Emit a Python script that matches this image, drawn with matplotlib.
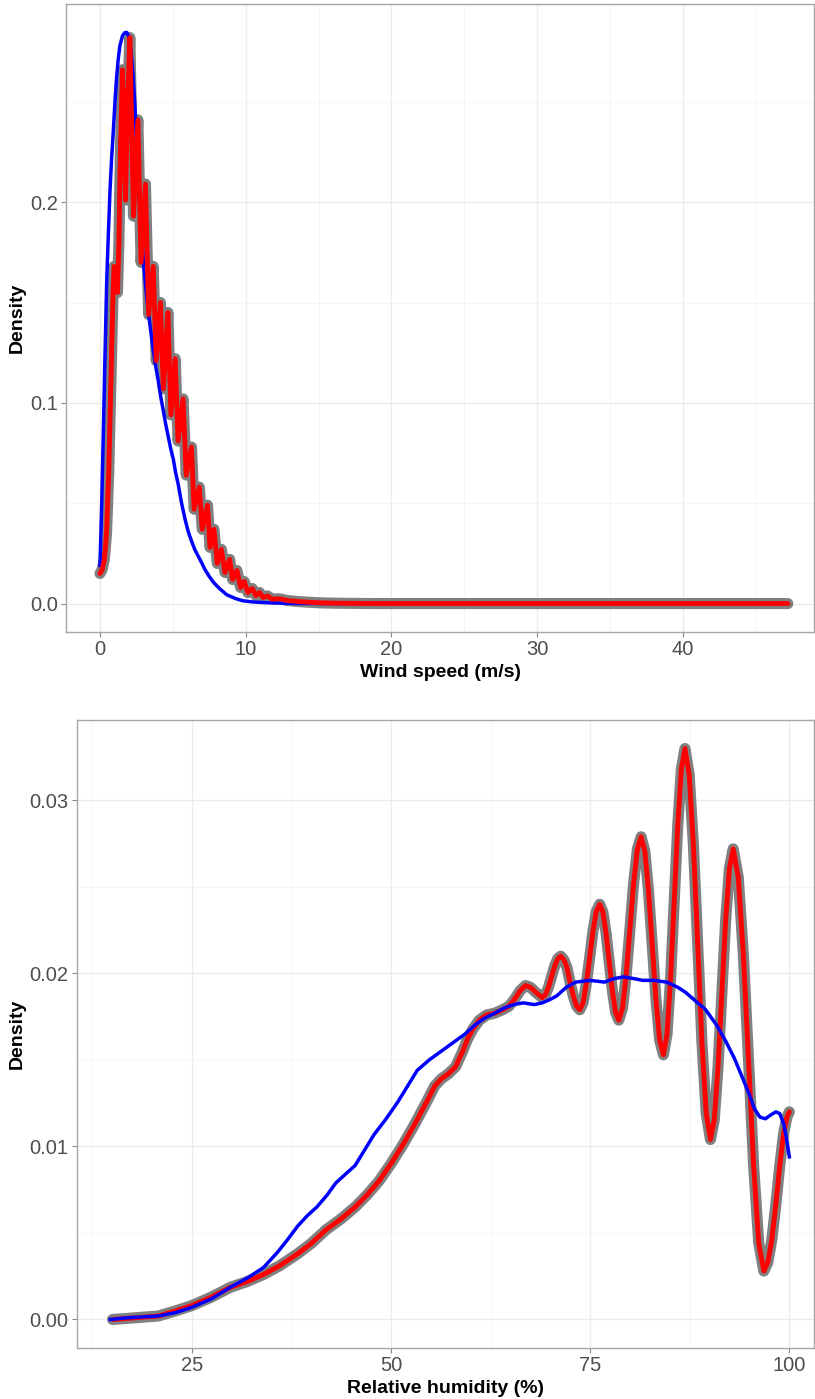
import numpy as np
import matplotlib.pyplot as plt
from matplotlib.ticker import MultipleLocator, FormatStrFormatter

plt.rcParams['font.family'] = ['Liberation Sans', 'DejaVu Sans']

# wind speed panel
wind_blue_x = [0.0, 0.12, 0.23, 0.35, 0.46, 0.58, 0.69, 0.8, 0.92, 1.03, 1.14, 1.25, 1.37, 1.55,
               1.72, 1.85, 1.95, 2.06, 2.17, 2.27, 2.36, 2.45, 2.52, 2.63, 2.75, 2.86, 2.97, 3.15,
               3.32, 3.5, 3.66, 3.83, 4.0, 4.17, 4.35, 4.52, 4.69, 4.86, 5.03, 5.2, 5.38, 5.6,
               5.84, 6.05, 6.29, 6.5, 6.75, 7.0, 7.2, 7.5, 7.8, 8.2, 8.7, 9.3, 9.8, 10.5, 11.5,
               13.0, 15.0, 47.2]
wind_blue_y = [0.019, 0.05, 0.085, 0.125, 0.16, 0.185, 0.206, 0.222, 0.236, 0.25, 0.262, 0.271,
               0.278, 0.283, 0.2845, 0.2845, 0.283, 0.279, 0.272, 0.263, 0.253, 0.24, 0.226,
               0.211, 0.197, 0.184, 0.171, 0.157, 0.145, 0.135, 0.126, 0.118, 0.111, 0.103,
               0.096, 0.089, 0.083, 0.077, 0.072, 0.065, 0.059, 0.05, 0.042, 0.036, 0.031,
               0.027, 0.0235, 0.02, 0.017, 0.0135, 0.0105, 0.0075, 0.0044, 0.0025, 0.0014,
               0.0008, 0.0004, 0.0001, 0.0, 0.0]

wind_red_x = [0.0, 0.15, 0.3, 0.45, 0.6, 0.75, 0.88, 0.97, 1.2, 1.3, 1.4, 1.55, 1.75, 1.9, 2.05,
              2.3, 2.6, 2.82, 3.12, 3.34, 3.65, 3.86, 4.15, 4.35, 4.66, 4.87, 5.16, 5.36, 5.7,
              5.92, 6.28, 6.46, 6.82, 7.02, 7.38, 7.55, 7.82, 8.05, 8.33, 8.58, 8.9, 9.1, 9.4,
              9.65, 9.9, 10.15, 10.45, 10.7, 10.95, 11.2, 11.5, 11.8, 12.3, 12.8, 13.3, 14.0,
              15.0, 16.0, 18.0, 20.0, 47.2]
wind_red_y = [0.015, 0.017, 0.022, 0.035, 0.065, 0.11, 0.15, 0.168, 0.155, 0.18, 0.225, 0.266,
              0.201, 0.25, 0.282, 0.193, 0.241, 0.17, 0.209, 0.144, 0.168, 0.121, 0.15, 0.107,
              0.145, 0.094, 0.122, 0.081, 0.102, 0.064, 0.078, 0.047, 0.058, 0.037, 0.049,
              0.028, 0.037, 0.02, 0.027, 0.0155, 0.022, 0.012, 0.0165, 0.008, 0.011, 0.0055,
              0.0075, 0.004, 0.0055, 0.003, 0.0038, 0.0022, 0.0024, 0.0016, 0.0012, 0.0008,
              0.0004, 0.0002, 0.00005, 0.0, 0.0]

# relative humidity panel
rh_blue_x = [14.76, 17, 20.8, 23, 25, 27.5, 29.8, 32, 34.0, 35.8, 37, 38.3, 39.5, 40.7, 42, 43.1,
             44.3, 45.5, 46.7, 47.9, 49.4, 50.9, 52.1, 53.3, 54.8, 56.3, 57.8, 59.3, 60.5, 61.7,
             63, 64.2, 65.4, 66.6, 68, 69.0, 70, 70.8, 72, 73.2, 75, 76.8, 78, 79.2, 80.5,
             81.6, 83, 84.6, 86, 87.0, 88, 89.5, 90.9, 92, 93.1, 94, 94.9, 95.6, 96.3, 97.0,
             97.6, 98.3, 98.8, 99.3, 99.7, 100]
rh_blue_y = [0.0, 0.0001, 0.0002, 0.0004, 0.0007, 0.0012, 0.00185, 0.0024, 0.003, 0.0039, 0.0046,
             0.0054, 0.006, 0.0065, 0.0072, 0.0079, 0.0084, 0.0089, 0.0098, 0.0107, 0.0116,
             0.0126, 0.0135, 0.0144, 0.015, 0.0155, 0.016, 0.0165, 0.017, 0.0174, 0.0177,
             0.018, 0.0182, 0.0183, 0.0182, 0.0183, 0.0185, 0.0187, 0.0192, 0.0195, 0.0196,
             0.0195, 0.0197, 0.0198, 0.0197, 0.0196, 0.0196, 0.0195, 0.0192, 0.0189, 0.0185,
             0.0179, 0.017, 0.0161, 0.0151, 0.0141, 0.0131, 0.0122, 0.0117, 0.0116, 0.0118,
             0.012, 0.0119, 0.0113, 0.0103, 0.0094]

rh_red_x = [15.06, 18, 20.8, 23, 25, 27.5, 29.8, 32, 34.0, 36, 38.3, 40, 41.9, 43.7, 45.5, 47,
            48.5, 50, 51.5, 53, 54.5, 55.5, 56.3, 57.2, 58.1, 59, 59.6, 60.3, 61.1, 62, 63.0,
            64.0, 64.8, 65.5, 66.2, 66.9, 67.5, 68.2, 69.0,
            69.38, 69.77, 70.15, 70.53, 70.92, 71.3,
            71.7, 72.1, 72.5, 72.9, 73.3, 73.7,
            74.12, 74.53, 74.95, 75.37, 75.78, 76.2,
            76.6, 77.0, 77.4, 77.8, 78.2, 78.6,
            79.07, 79.53, 80.0, 80.47, 80.93, 81.4,
            81.87, 82.33, 82.8, 83.27, 83.73, 84.2,
            84.65, 85.1, 85.55, 86.0, 86.45, 86.9,
            87.43, 87.97, 88.5, 89.03, 89.57, 90.1,
            90.58, 91.05, 91.53, 92.0, 92.48, 92.95,
            93.59, 94.23, 94.88, 95.52, 96.16, 96.8,
            97.3, 97.8, 98.3, 98.8, 99.3, 99.7, 100]
rh_red_y = [0.0, 0.0001, 0.0002, 0.0005, 0.0008, 0.0013, 0.00185, 0.0022, 0.0026, 0.0031, 0.0038,
            0.0044, 0.0052, 0.0058, 0.0065, 0.0072, 0.008, 0.009, 0.0101, 0.0113, 0.0126, 0.0135,
            0.0139, 0.0142, 0.0146, 0.0155, 0.0162, 0.0168, 0.0173, 0.0176, 0.0177,
            0.0179, 0.0181, 0.0185, 0.019, 0.0193, 0.0192, 0.0189, 0.0186,
            0.01876, 0.0192, 0.0198, 0.0204, 0.02084, 0.021,
            0.02079, 0.02033, 0.01945, 0.01868, 0.01811, 0.0179,
            0.01831, 0.01943, 0.02095, 0.02248, 0.02359, 0.024,
            0.02355, 0.02233, 0.02065, 0.01898, 0.01775, 0.0173,
            0.01801, 0.01995, 0.0226, 0.02525, 0.02719, 0.0279,
            0.02706, 0.02475, 0.0216, 0.01845, 0.01614, 0.0153,
            0.01649, 0.01973, 0.02415, 0.02858, 0.03181, 0.033,
            0.03149, 0.02735, 0.0217, 0.01605, 0.01191, 0.0104,
            0.01153, 0.0146, 0.0188, 0.023, 0.02607, 0.0272,
            0.02557, 0.0211, 0.015, 0.0089, 0.00443, 0.0028,
            0.0033, 0.0046, 0.0066, 0.0089, 0.0108, 0.0117, 0.012]


def style(ax, xmajor, xminor, ymajor, yminor, yfmt):
    ax.xaxis.set_major_locator(MultipleLocator(xmajor))
    ax.xaxis.set_minor_locator(MultipleLocator(xminor))
    ax.yaxis.set_major_locator(MultipleLocator(ymajor))
    ax.yaxis.set_minor_locator(MultipleLocator(yminor))
    ax.yaxis.set_major_formatter(FormatStrFormatter(yfmt))
    ax.grid(which='major', color='#EBEBEB', lw=1.0)
    ax.grid(which='minor', color='#F4F4F4', lw=0.6)
    ax.set_axisbelow(True)
    for s in ax.spines.values():
        s.set_color('#A6A6A6')
        s.set_linewidth(1.0)
    ax.tick_params(which='major', length=3.5, width=0.8, color='#888888',
                   labelsize=14.5, labelcolor='#4D4D4D', pad=2.5)
    ax.tick_params(which='minor', length=0)
    ax.set_ylabel('Density', fontsize=14, fontweight='bold', labelpad=3)


fig = plt.figure(figsize=(8.15, 13.99), dpi=100)

ax1 = fig.add_axes([0.0810, 0.5482, 0.9178, 0.4489])
ax1.plot(wind_red_x, wind_red_y, color='#808080', lw=8, solid_capstyle='round', solid_joinstyle='round')
ax1.plot(wind_blue_x, wind_blue_y, color='#0000FF', lw=2.5, solid_joinstyle='round')
ax1.plot(wind_red_x, wind_red_y, color='#FF0000', lw=3.5, solid_capstyle='round', solid_joinstyle='round')
ax1.set_xlim(-2.33, 49.0)
ax1.set_ylim(-0.0142, 0.2987)
style(ax1, 10, 5, 0.1, 0.05, '%.1f')
ax1.set_xlabel('Wind speed (m/s)', fontsize=14, fontweight='bold', labelpad=3)

ax2 = fig.add_axes([0.0945, 0.03645, 0.9043, 0.4489])
ax2.plot(rh_red_x, rh_red_y, color='#808080', lw=8, solid_capstyle='round', solid_joinstyle='round')
ax2.plot(rh_red_x, rh_red_y, color='#FF0000', lw=3.5, solid_capstyle='round', solid_joinstyle='round')
ax2.plot(rh_blue_x, rh_blue_y, color='#0000FF', lw=2.5, solid_joinstyle='round')
ax2.set_xlim(10.6, 103.1)
ax2.set_ylim(-0.00165, 0.03465)
style(ax2, 25, 12.5, 0.01, 0.005, '%.2f')
ax2.set_xlabel('Relative humidity (%)', fontsize=14, fontweight='bold', labelpad=3)

fig.savefig('out.png', dpi=100)
